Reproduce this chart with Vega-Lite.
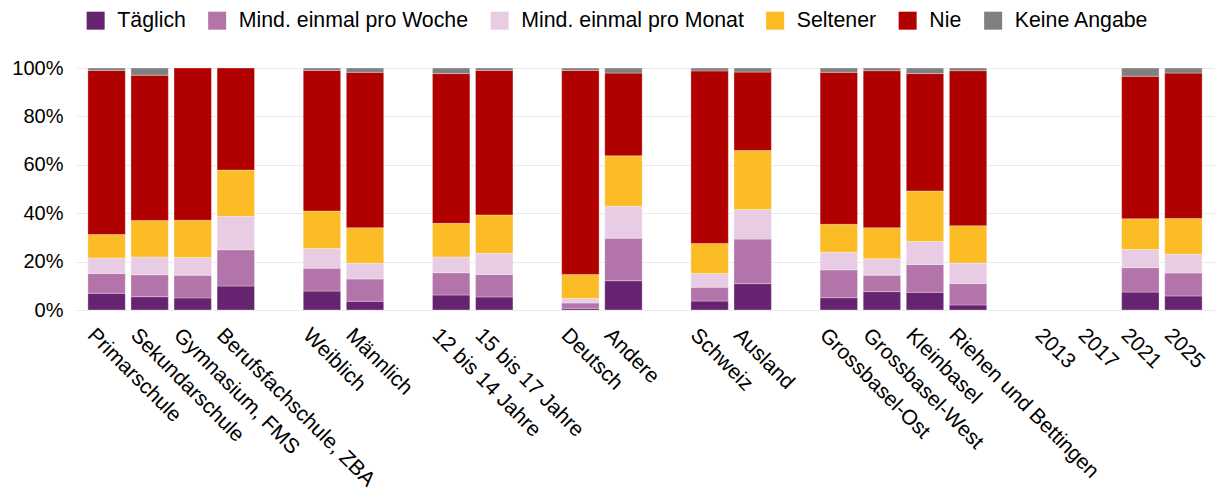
{
  "$schema": "https://vega.github.io/schema/vega-lite/v6.json",
  "width": 1138,
  "height": 242,
  "autosize": {"type": "none"},
  "padding": {"left": 76, "top": 68, "right": 5, "bottom": 189},
  "config": {
    "font": "Liberation Sans",
    "view": {"stroke": null},
    "axis": {"labelColor": "#000000", "labelFont": "Liberation Sans"},
    "legend": {"labelFont": "Liberation Sans"}
  },
  "data": {
    "values": [
      {"Gruppe": "Primarschule", "Haeufigkeit": "Täglich", "Anteil": 6.9},
      {"Gruppe": "Primarschule", "Haeufigkeit": "Mind. einmal pro Woche", "Anteil": 8.2},
      {"Gruppe": "Primarschule", "Haeufigkeit": "Mind. einmal pro Monat", "Anteil": 6.4},
      {"Gruppe": "Primarschule", "Haeufigkeit": "Seltener", "Anteil": 9.7},
      {"Gruppe": "Primarschule", "Haeufigkeit": "Nie", "Anteil": 67.8},
      {"Gruppe": "Primarschule", "Haeufigkeit": "Keine Angabe", "Anteil": 1.0},
      {"Gruppe": "Sekundarschule", "Haeufigkeit": "Täglich", "Anteil": 5.5},
      {"Gruppe": "Sekundarschule", "Haeufigkeit": "Mind. einmal pro Woche", "Anteil": 9.1},
      {"Gruppe": "Sekundarschule", "Haeufigkeit": "Mind. einmal pro Monat", "Anteil": 7.3},
      {"Gruppe": "Sekundarschule", "Haeufigkeit": "Seltener", "Anteil": 15.1},
      {"Gruppe": "Sekundarschule", "Haeufigkeit": "Nie", "Anteil": 60.0},
      {"Gruppe": "Sekundarschule", "Haeufigkeit": "Keine Angabe", "Anteil": 3.0},
      {"Gruppe": "Gymnasium, FMS", "Haeufigkeit": "Täglich", "Anteil": 5.0},
      {"Gruppe": "Gymnasium, FMS", "Haeufigkeit": "Mind. einmal pro Woche", "Anteil": 9.4},
      {"Gruppe": "Gymnasium, FMS", "Haeufigkeit": "Mind. einmal pro Monat", "Anteil": 7.3},
      {"Gruppe": "Gymnasium, FMS", "Haeufigkeit": "Seltener", "Anteil": 15.4},
      {"Gruppe": "Gymnasium, FMS", "Haeufigkeit": "Nie", "Anteil": 62.9},
      {"Gruppe": "Berufsfachschule, ZBA", "Haeufigkeit": "Täglich", "Anteil": 9.9},
      {"Gruppe": "Berufsfachschule, ZBA", "Haeufigkeit": "Mind. einmal pro Woche", "Anteil": 15.0},
      {"Gruppe": "Berufsfachschule, ZBA", "Haeufigkeit": "Mind. einmal pro Monat", "Anteil": 13.8},
      {"Gruppe": "Berufsfachschule, ZBA", "Haeufigkeit": "Seltener", "Anteil": 19.1},
      {"Gruppe": "Berufsfachschule, ZBA", "Haeufigkeit": "Nie", "Anteil": 42.2},
      {"Gruppe": "Weiblich", "Haeufigkeit": "Täglich", "Anteil": 7.8},
      {"Gruppe": "Weiblich", "Haeufigkeit": "Mind. einmal pro Woche", "Anteil": 9.5},
      {"Gruppe": "Weiblich", "Haeufigkeit": "Mind. einmal pro Monat", "Anteil": 8.1},
      {"Gruppe": "Weiblich", "Haeufigkeit": "Seltener", "Anteil": 15.5},
      {"Gruppe": "Weiblich", "Haeufigkeit": "Nie", "Anteil": 58.1},
      {"Gruppe": "Weiblich", "Haeufigkeit": "Keine Angabe", "Anteil": 1.0},
      {"Gruppe": "Männlich", "Haeufigkeit": "Täglich", "Anteil": 3.6},
      {"Gruppe": "Männlich", "Haeufigkeit": "Mind. einmal pro Woche", "Anteil": 9.2},
      {"Gruppe": "Männlich", "Haeufigkeit": "Mind. einmal pro Monat", "Anteil": 6.5},
      {"Gruppe": "Männlich", "Haeufigkeit": "Seltener", "Anteil": 14.7},
      {"Gruppe": "Männlich", "Haeufigkeit": "Nie", "Anteil": 64.2},
      {"Gruppe": "Männlich", "Haeufigkeit": "Keine Angabe", "Anteil": 1.8},
      {"Gruppe": "12 bis 14 Jahre", "Haeufigkeit": "Täglich", "Anteil": 6.2},
      {"Gruppe": "12 bis 14 Jahre", "Haeufigkeit": "Mind. einmal pro Woche", "Anteil": 9.2},
      {"Gruppe": "12 bis 14 Jahre", "Haeufigkeit": "Mind. einmal pro Monat", "Anteil": 6.5},
      {"Gruppe": "12 bis 14 Jahre", "Haeufigkeit": "Seltener", "Anteil": 13.9},
      {"Gruppe": "12 bis 14 Jahre", "Haeufigkeit": "Nie", "Anteil": 61.9},
      {"Gruppe": "12 bis 14 Jahre", "Haeufigkeit": "Keine Angabe", "Anteil": 2.3},
      {"Gruppe": "15 bis 17 Jahre", "Haeufigkeit": "Täglich", "Anteil": 5.4},
      {"Gruppe": "15 bis 17 Jahre", "Haeufigkeit": "Mind. einmal pro Woche", "Anteil": 9.3},
      {"Gruppe": "15 bis 17 Jahre", "Haeufigkeit": "Mind. einmal pro Monat", "Anteil": 8.7},
      {"Gruppe": "15 bis 17 Jahre", "Haeufigkeit": "Seltener", "Anteil": 15.9},
      {"Gruppe": "15 bis 17 Jahre", "Haeufigkeit": "Nie", "Anteil": 59.7},
      {"Gruppe": "15 bis 17 Jahre", "Haeufigkeit": "Keine Angabe", "Anteil": 1.0},
      {"Gruppe": "Deutsch", "Haeufigkeit": "Täglich", "Anteil": 0.7},
      {"Gruppe": "Deutsch", "Haeufigkeit": "Mind. einmal pro Woche", "Anteil": 2.2},
      {"Gruppe": "Deutsch", "Haeufigkeit": "Mind. einmal pro Monat", "Anteil": 1.9},
      {"Gruppe": "Deutsch", "Haeufigkeit": "Seltener", "Anteil": 9.9},
      {"Gruppe": "Deutsch", "Haeufigkeit": "Nie", "Anteil": 84.3},
      {"Gruppe": "Deutsch", "Haeufigkeit": "Keine Angabe", "Anteil": 1.0},
      {"Gruppe": "Andere", "Haeufigkeit": "Täglich", "Anteil": 12.1},
      {"Gruppe": "Andere", "Haeufigkeit": "Mind. einmal pro Woche", "Anteil": 17.6},
      {"Gruppe": "Andere", "Haeufigkeit": "Mind. einmal pro Monat", "Anteil": 13.2},
      {"Gruppe": "Andere", "Haeufigkeit": "Seltener", "Anteil": 20.8},
      {"Gruppe": "Andere", "Haeufigkeit": "Nie", "Anteil": 34.2},
      {"Gruppe": "Andere", "Haeufigkeit": "Keine Angabe", "Anteil": 2.1},
      {"Gruppe": "Schweiz", "Haeufigkeit": "Täglich", "Anteil": 3.7},
      {"Gruppe": "Schweiz", "Haeufigkeit": "Mind. einmal pro Woche", "Anteil": 5.7},
      {"Gruppe": "Schweiz", "Haeufigkeit": "Mind. einmal pro Monat", "Anteil": 5.7},
      {"Gruppe": "Schweiz", "Haeufigkeit": "Seltener", "Anteil": 12.4},
      {"Gruppe": "Schweiz", "Haeufigkeit": "Nie", "Anteil": 71.3},
      {"Gruppe": "Schweiz", "Haeufigkeit": "Keine Angabe", "Anteil": 1.2},
      {"Gruppe": "Ausland", "Haeufigkeit": "Täglich", "Anteil": 10.9},
      {"Gruppe": "Ausland", "Haeufigkeit": "Mind. einmal pro Woche", "Anteil": 18.4},
      {"Gruppe": "Ausland", "Haeufigkeit": "Mind. einmal pro Monat", "Anteil": 12.2},
      {"Gruppe": "Ausland", "Haeufigkeit": "Seltener", "Anteil": 24.4},
      {"Gruppe": "Ausland", "Haeufigkeit": "Nie", "Anteil": 32.4},
      {"Gruppe": "Ausland", "Haeufigkeit": "Keine Angabe", "Anteil": 1.7},
      {"Gruppe": "Grossbasel-Ost", "Haeufigkeit": "Täglich", "Anteil": 5.1},
      {"Gruppe": "Grossbasel-Ost", "Haeufigkeit": "Mind. einmal pro Woche", "Anteil": 11.5},
      {"Gruppe": "Grossbasel-Ost", "Haeufigkeit": "Mind. einmal pro Monat", "Anteil": 7.3},
      {"Gruppe": "Grossbasel-Ost", "Haeufigkeit": "Seltener", "Anteil": 11.5},
      {"Gruppe": "Grossbasel-Ost", "Haeufigkeit": "Nie", "Anteil": 62.8},
      {"Gruppe": "Grossbasel-Ost", "Haeufigkeit": "Keine Angabe", "Anteil": 1.8},
      {"Gruppe": "Grossbasel-West", "Haeufigkeit": "Täglich", "Anteil": 7.6},
      {"Gruppe": "Grossbasel-West", "Haeufigkeit": "Mind. einmal pro Woche", "Anteil": 6.8},
      {"Gruppe": "Grossbasel-West", "Haeufigkeit": "Mind. einmal pro Monat", "Anteil": 6.8},
      {"Gruppe": "Grossbasel-West", "Haeufigkeit": "Seltener", "Anteil": 12.8},
      {"Gruppe": "Grossbasel-West", "Haeufigkeit": "Nie", "Anteil": 64.9},
      {"Gruppe": "Grossbasel-West", "Haeufigkeit": "Keine Angabe", "Anteil": 1.1},
      {"Gruppe": "Kleinbasel", "Haeufigkeit": "Täglich", "Anteil": 7.3},
      {"Gruppe": "Kleinbasel", "Haeufigkeit": "Mind. einmal pro Woche", "Anteil": 11.5},
      {"Gruppe": "Kleinbasel", "Haeufigkeit": "Mind. einmal pro Monat", "Anteil": 9.5},
      {"Gruppe": "Kleinbasel", "Haeufigkeit": "Seltener", "Anteil": 20.9},
      {"Gruppe": "Kleinbasel", "Haeufigkeit": "Nie", "Anteil": 48.5},
      {"Gruppe": "Kleinbasel", "Haeufigkeit": "Keine Angabe", "Anteil": 2.3},
      {"Gruppe": "Riehen und Bettingen", "Haeufigkeit": "Täglich", "Anteil": 2.1},
      {"Gruppe": "Riehen und Bettingen", "Haeufigkeit": "Mind. einmal pro Woche", "Anteil": 8.8},
      {"Gruppe": "Riehen und Bettingen", "Haeufigkeit": "Mind. einmal pro Monat", "Anteil": 8.5},
      {"Gruppe": "Riehen und Bettingen", "Haeufigkeit": "Seltener", "Anteil": 15.4},
      {"Gruppe": "Riehen und Bettingen", "Haeufigkeit": "Nie", "Anteil": 64.1},
      {"Gruppe": "Riehen und Bettingen", "Haeufigkeit": "Keine Angabe", "Anteil": 1.1},
      {"Gruppe": "2021", "Haeufigkeit": "Täglich", "Anteil": 7.4},
      {"Gruppe": "2021", "Haeufigkeit": "Mind. einmal pro Woche", "Anteil": 10.1},
      {"Gruppe": "2021", "Haeufigkeit": "Mind. einmal pro Monat", "Anteil": 7.5},
      {"Gruppe": "2021", "Haeufigkeit": "Seltener", "Anteil": 12.7},
      {"Gruppe": "2021", "Haeufigkeit": "Nie", "Anteil": 58.9},
      {"Gruppe": "2021", "Haeufigkeit": "Keine Angabe", "Anteil": 3.4},
      {"Gruppe": "2025", "Haeufigkeit": "Täglich", "Anteil": 5.8},
      {"Gruppe": "2025", "Haeufigkeit": "Mind. einmal pro Woche", "Anteil": 9.5},
      {"Gruppe": "2025", "Haeufigkeit": "Mind. einmal pro Monat", "Anteil": 7.7},
      {"Gruppe": "2025", "Haeufigkeit": "Seltener", "Anteil": 14.8},
      {"Gruppe": "2025", "Haeufigkeit": "Nie", "Anteil": 60.1},
      {"Gruppe": "2025", "Haeufigkeit": "Keine Angabe", "Anteil": 2.1}
    ]
  },
  "transform": [
    {"calculate": "indexof(['Täglich', 'Mind. einmal pro Woche', 'Mind. einmal pro Monat', 'Seltener', 'Nie', 'Keine Angabe'], datum.Haeufigkeit)", "as": "Reihenfolge"}
  ],
  "mark": {"type": "bar", "stroke": "#ffffff", "strokeWidth": 0.5, "strokeOpacity": 0.6},
  "encoding": {
    "x": {
      "field": "Gruppe",
      "type": "nominal",
      "sort": null,
      "scale": {
        "domain": ["Primarschule", "Sekundarschule", "Gymnasium, FMS", "Berufsfachschule, ZBA", " ", "Weiblich", "Männlich", "  ", "12 bis 14 Jahre", "15 bis 17 Jahre", "   ", "Deutsch", "Andere", "    ", "Schweiz", "Ausland", "     ", "Grossbasel-Ost", "Grossbasel-West", "Kleinbasel", "Riehen und Bettingen", "      ", "2013", "2017", "2021", "2025"],
        "paddingInner": 0.132,
        "paddingOuter": 0.276
      },
      "axis": {
        "title": null,
        "labelAngle": 45,
        "labelAlign": "left",
        "labelBaseline": "top",
        "labelFontSize": 21,
        "labelPadding": 14,
        "labelOffset": -8,
        "labelLimit": 0,
        "ticks": false,
        "domain": false,
        "grid": false
      }
    },
    "y": {
      "field": "Anteil",
      "type": "quantitative",
      "stack": "normalize",
      "scale": {"domain": [0, 1], "nice": false},
      "axis": {
        "title": null,
        "format": ".0%",
        "values": [0, 0.2, 0.4, 0.6, 0.8, 1],
        "domain": false,
        "ticks": false,
        "labelFontSize": 20,
        "labelPadding": 13,
        "gridColor": "#ebebeb",
        "gridWidth": 1
      }
    },
    "order": {"field": "Reihenfolge", "type": "quantitative", "sort": "ascending"},
    "color": {
      "field": "Haeufigkeit",
      "type": "nominal",
      "sort": ["Täglich", "Mind. einmal pro Woche", "Mind. einmal pro Monat", "Seltener", "Nie", "Keine Angabe"],
      "scale": {
        "domain": ["Täglich", "Mind. einmal pro Woche", "Mind. einmal pro Monat", "Seltener", "Nie", "Keine Angabe"],
        "range": ["#662470", "#b374a9", "#e8cce3", "#fbbc26", "#b00000", "#808080"]
      },
      "legend": {
        "title": null,
        "orient": "none",
        "direction": "horizontal",
        "columns": 6,
        "legendX": 9,
        "legendY": -58,
        "padding": 0,
        "symbolType": "square",
        "symbolSize": 324,
        "symbolStrokeWidth": 0,
        "symbolOpacity": 1,
        "labelFontSize": 21.3,
        "labelColor": "#000000",
        "labelOffset": 11,
        "labelLimit": 0,
        "columnPadding": 20.5
      }
    }
  }
}
